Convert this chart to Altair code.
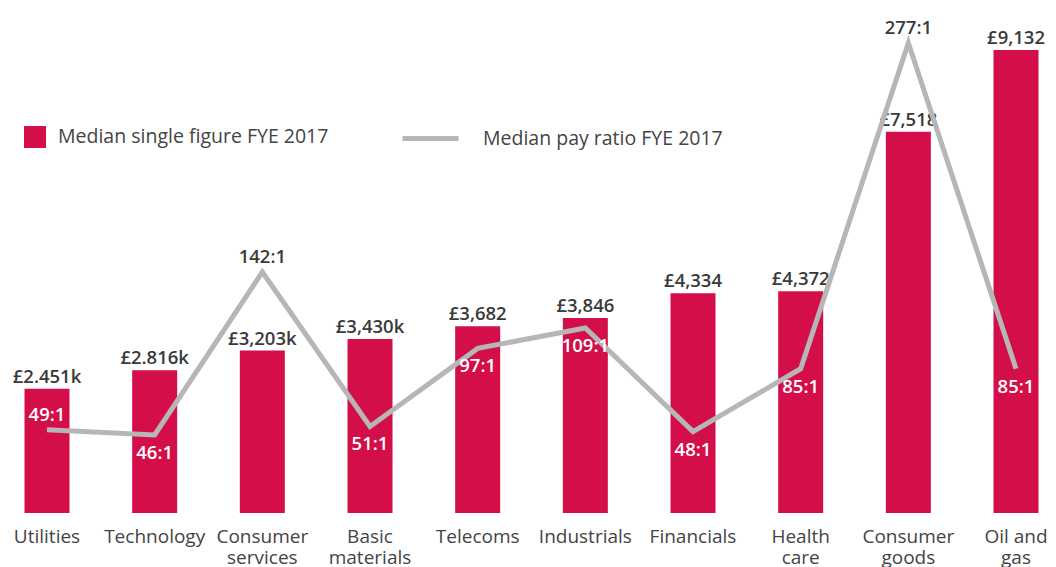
import altair as alt
import pandas as pd

categories = ["Utilities", "Technology", "Consumer services", "Basic materials", "Telecoms",
              "Industrials", "Financials", "Health care", "Consumer goods", "Oil and gas"]
single_figure = [2451, 2816, 3203, 3430, 3682, 3846, 4334, 4372, 7518, 9132]
single_figure_labels = ["£2.451k", "£2.816k", "£3,203k", "£3,430k", "£3,682",
                        "£3,846", "£4,334", "£4,372", "£7,518", "£9,132"]
pay_ratio = [49, 46, 142, 51, 97, 109, 48, 85, 277, 85]
pay_ratio_labels = ["49:1", "46:1", "142:1", "51:1", "97:1", "109:1", "48:1", "85:1", "277:1", "85:1"]
ratio_label_side = ["above", "below", "above", "below", "below",
                    "below", "below", "below", "above", "below"]
bar_series = "Median single figure FYE 2017"
line_series = "Median pay ratio FYE 2017"

FIG_MAX = 9960
RATIO_MAX = 297.6
BAR_COLOR = "#D40E48"
LINE_COLOR = "#B6B6B6"
TEXT_DARK = "#3a3a3a"
FONT = "Open Sans"

df = pd.DataFrame({
    "category": categories,
    "single_figure": single_figure,
    "fig_label": single_figure_labels,
    "pay_ratio": pay_ratio,
    "ratio_label": pay_ratio_labels,
    "side": ratio_label_side,
    "bar_series": [bar_series] * len(categories),
    "line_series": [line_series] * len(categories),
})

x = alt.X(
    "category:N", sort=categories,
    scale=alt.Scale(paddingInner=0.582, paddingOuter=0.1207, align=0.635),
    axis=alt.Axis(
        title=None, domain=False, ticks=False, labelAngle=0, labelPadding=14,
        labelFontSize=19, labelFont=FONT, labelColor="#444444", labelLineHeight=21,
        labelOverlap=False, labelLimit=300,
        labelExpr="datum.value == 'Oil and gas' ? ['Oil and', 'gas'] : split(datum.value, ' ')",
    ),
)

y_fig = alt.Y("single_figure:Q", scale=alt.Scale(domain=[0, FIG_MAX]), axis=None)
y_ratio = alt.Y("pay_ratio:Q", scale=alt.Scale(domain=[0, RATIO_MAX]), axis=None)

base = alt.Chart(df)

bars = base.mark_bar().encode(
    x=x, y=y_fig,
    fill=alt.Fill(
        "bar_series:N",
        scale=alt.Scale(range=[BAR_COLOR]),
        legend=alt.Legend(title=None, orient="none", legendX=16, legendY=118,
                          symbolType="square", symbolSize=484, symbolStrokeWidth=0,
                          labelOffset=12, labelFontSize=19.5, labelFont=FONT,
                          labelColor="#444444", padding=0, labelLimit=400),
    ),
)

fig_text = base.mark_text(baseline="alphabetic", dy=-6, fontSize=18.5, fontWeight=600,
                          font=FONT, color=TEXT_DARK).encode(
    x=x, y=y_fig, text="fig_label:N")

line = base.mark_line(strokeWidth=5, strokeJoin="miter").encode(
    x=x, y=y_ratio,
    stroke=alt.Stroke(
        "line_series:N",
        scale=alt.Scale(range=[LINE_COLOR]),
        legend=alt.Legend(title=None, orient="none", legendX=392, legendY=100,
                          symbolType="stroke", symbolSize=3136, symbolStrokeWidth=5,
                          labelOffset=22, labelFontSize=19.5, labelFont=FONT,
                          labelColor="#444444", padding=0, labelLimit=400),
    ),
)

ratio_color = alt.condition(
    f"datum.pay_ratio / {RATIO_MAX} > datum.single_figure / {FIG_MAX}",
    alt.value(TEXT_DARK), alt.value("white"))

ratio_above = base.transform_filter("datum.side == 'above'").mark_text(
    baseline="alphabetic", dy=-9, fontSize=18.5, font=FONT, fontWeight=600).encode(
    x=x, y=y_ratio, text="ratio_label:N", color=ratio_color)

ratio_below = base.transform_filter("datum.side == 'below'").mark_text(
    baseline="top", dy=9, fontSize=18.5, font=FONT, fontWeight=600).encode(
    x=x, y=y_ratio, text="ratio_label:N", color=ratio_color)

chart = alt.layer(bars, fig_text, line, ratio_above, ratio_below).resolve_scale(
    y="independent"
).properties(
    width=1040, height=505,
    autosize=alt.AutoSizeParams(type="none"),
    padding={"left": 0, "top": 0, "right": 0, "bottom": 54},
).configure_view(stroke=None)

chart.save("out.html", embed_options={"renderer": "svg", "actions": False})
